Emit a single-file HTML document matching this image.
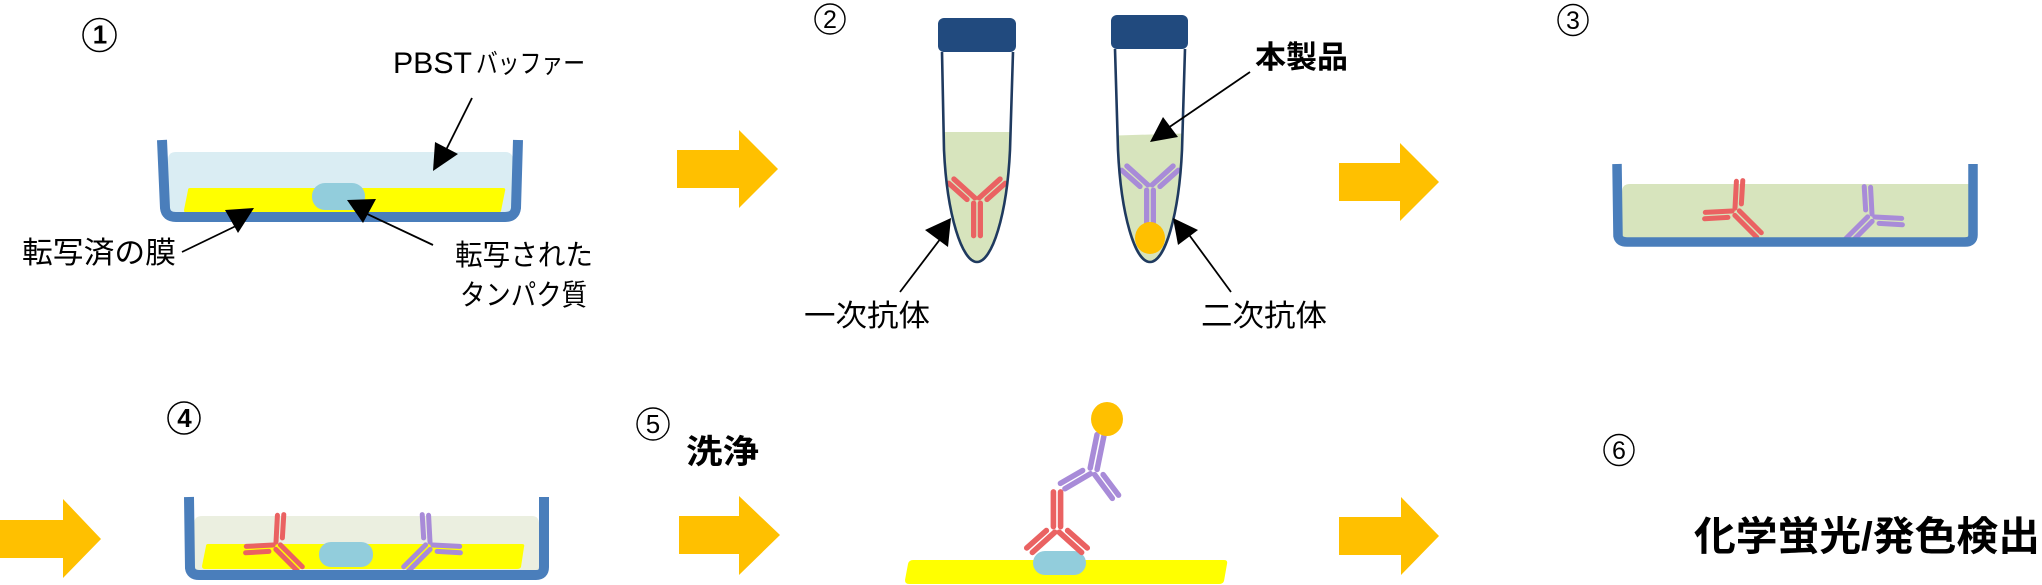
<!DOCTYPE html>
<html>
<head>
<meta charset="utf-8">
<style>
html,body{margin:0;padding:0;background:#ffffff;}
svg{display:block;}
text{font-family:"Liberation Sans","Noto Sans CJK JP",sans-serif;fill:#000;}
.b{font-weight:bold;}
</style>
</head>
<body>
<svg width="2042" height="585" viewBox="0 0 2042 585" xmlns="http://www.w3.org/2000/svg">
<defs>
  <g id="ab" fill="none" stroke="currentColor" stroke-width="5" stroke-linecap="round">
    <path d="M-3.2,3 L-3.2,34 M3.2,3 L3.2,34 M-2,-2 L-22,-20 M-9.5,-0.5 L-27,-16 M2,-2 L22,-20 M9.5,-0.5 L27,-16"/>
  </g>
  <clipPath id="t1"><path d="M942,52 L944,150 C947,215 962,262 977,262 C992,262 1007,215 1010,150 L1013,52 Z"/></clipPath>
  <clipPath id="t2"><path d="M1115,49 L1118,150 C1121,215 1135,262 1150,262 C1165,262 1179,215 1182,150 L1185,49 Z"/></clipPath>
</defs>

<!-- ================= STEP 1 ================= -->
<ellipse cx="99.5" cy="35" rx="16.5" ry="16.5" fill="none" stroke="#000" stroke-width="1.5"/>
<text x="100" y="43.5" font-size="26" class="b" text-anchor="middle">1</text>

<text x="393" y="73" font-size="30" textLength="79" lengthAdjust="spacingAndGlyphs">PBST</text>
<text x="476" y="73" font-size="27" textLength="109" lengthAdjust="spacingAndGlyphs">バッファー</text>

<path d="M168,160 Q168,152 176,152 L505,152 Q513,152 513,160 L513,213 L168,213 Z" fill="#DAEDF3"/>
<path d="M190,188 L503,188 Q506,188 505,191 L501,211 Q500,213 497,213 L187,213 Q184,213 184,210 L188,190 Q188,188 190,188 Z" fill="#FFFF00"/>
<rect x="312" y="183" width="53" height="27" rx="13" ry="13" fill="#92CDDC"/>
<path d="M162,140 L165,208 Q166,217 176,217 L505,217 Q515,217 516,208 L518,140" fill="none" stroke="#4A7EBB" stroke-width="10"/>

<line x1="472" y1="98" x2="446" y2="150" stroke="#000" stroke-width="1.8"/>
<polygon points="435,142 458,154 433,171" fill="#000"/>
<line x1="182" y1="252" x2="238" y2="225" stroke="#000" stroke-width="1.8"/>
<polygon points="225,210 254,208 238,233" fill="#000"/>
<line x1="433" y1="245" x2="363" y2="212" stroke="#000" stroke-width="1.8"/>
<polygon points="347,200 376,199 363,223" fill="#000"/>

<text x="22" y="263" font-size="30" textLength="154" lengthAdjust="spacingAndGlyphs">転写済の膜</text>
<text x="455" y="265" font-size="29" textLength="138" lengthAdjust="spacingAndGlyphs">転写された</text>
<text x="460" y="305" font-size="29" textLength="127" lengthAdjust="spacingAndGlyphs">タンパク質</text>

<!-- ================= ARROW 1 ================= -->
<polygon points="677,150 739,150 739,130 778,169 739,208 739,188 677,188" fill="#FFC000"/>

<!-- ================= STEP 2 ================= -->
<ellipse cx="830" cy="19" rx="15" ry="15" fill="none" stroke="#000" stroke-width="1.4"/>
<text x="830" y="28" font-size="25" text-anchor="middle">2</text>

<path d="M942,52 L944,150 C947,215 962,262 977,262 C992,262 1007,215 1010,150 L1013,52 Z" fill="#fff"/>
<rect x="930" y="132" width="100" height="140" fill="#D7E4BD" clip-path="url(#t1)"/>
<use href="#ab" transform="translate(977,200) scale(1.05)" style="color:#EA6262"/>
<path d="M942,52 L944,150 C947,215 962,262 977,262 C992,262 1007,215 1010,150 L1013,52" fill="none" stroke="#1F3A5F" stroke-width="2.6"/>
<rect x="938" y="18" width="78" height="34" rx="6" ry="6" fill="#214A7E"/>

<path d="M1115,49 L1118,150 C1121,215 1135,262 1150,262 C1165,262 1179,215 1182,150 L1185,49 Z" fill="#fff"/>
<polygon points="1100,136 1200,133 1200,275 1100,275" fill="#D7E4BD" clip-path="url(#t2)"/>
<use href="#ab" transform="translate(1150,187) scale(1.05)" style="color:#A88BD8"/>
<ellipse cx="1150" cy="238" rx="15" ry="16" fill="#FFC000" clip-path="url(#t2)"/>
<path d="M1115,49 L1118,150 C1121,215 1135,262 1150,262 C1165,262 1179,215 1182,150 L1185,49" fill="none" stroke="#1F3A5F" stroke-width="2.6"/>
<rect x="1111" y="15" width="77" height="34" rx="6" ry="6" fill="#214A7E"/>

<text x="1255" y="68" font-size="31" class="b" textLength="93" lengthAdjust="spacingAndGlyphs">本製品</text>
<line x1="1250" y1="72" x2="1168" y2="128" stroke="#000" stroke-width="1.8"/>
<polygon points="1150,142 1163,117 1178,137" fill="#000"/>

<text x="804" y="326" font-size="30" textLength="126" lengthAdjust="spacingAndGlyphs">一次抗体</text>
<line x1="900" y1="292" x2="941" y2="238" stroke="#000" stroke-width="1.8"/>
<polygon points="925,230 951,218 948,247" fill="#000"/>

<text x="1201" y="326" font-size="30" textLength="126" lengthAdjust="spacingAndGlyphs">二次抗体</text>
<line x1="1231" y1="292" x2="1187" y2="232" stroke="#000" stroke-width="1.8"/>
<polygon points="1173,218 1198,230 1178,245" fill="#000"/>

<!-- ================= ARROW 2 ================= -->
<polygon points="1339,163 1400,163 1400,143 1439,182 1400,221 1400,201 1339,201" fill="#FFC000"/>

<!-- ================= STEP 3 ================= -->
<ellipse cx="1573" cy="20" rx="15" ry="15.5" fill="none" stroke="#000" stroke-width="1.4"/>
<text x="1573" y="29" font-size="25" text-anchor="middle">3</text>

<path d="M1622,192 Q1622,184 1630,184 L1970,184 L1970,238 L1622,238 Z" fill="#D7E4BD"/>
<use href="#ab" transform="translate(1735,211) rotate(-45)" style="color:#EA6262"/>
<use href="#ab" transform="translate(1872,217) rotate(45)" style="color:#A88BD8"/>
<path d="M1617,164 L1618,236 Q1619,242 1627,242 L1965,242 Q1973,242 1973,235 L1973,164" fill="none" stroke="#4A7EBB" stroke-width="9.5"/>

<!-- ================= ARROW 3 ================= -->
<polygon points="0,520 63,520 63,499 101,539 63,578 63,558 0,558" fill="#FFC000"/>

<!-- ================= STEP 4 ================= -->
<ellipse cx="184" cy="418" rx="16" ry="16" fill="none" stroke="#000" stroke-width="1.5"/>
<text x="184.5" y="427" font-size="26" class="b" text-anchor="middle">4</text>

<path d="M194,524 Q194,516 202,516 L532,516 Q539,516 539,524 L539,571 L194,571 Z" fill="#EBEFE0"/>
<path d="M208,544 L522,544 Q525,544 524,547 L521,567 Q520,569 517,569 L205,569 Q202,569 202,566 L206,546 Q206,544 208,544 Z" fill="#FFFF00"/>
<rect x="319" y="542" width="54" height="25" rx="12" ry="12" fill="#92CDDC"/>
<use href="#ab" transform="translate(276,545) rotate(-45)" style="color:#EA6262"/>
<use href="#ab" transform="translate(430,545) rotate(45)" style="color:#A88BD8"/>
<path d="M189,497 L190,568 Q191,575 199,575 L536,575 Q544,575 544,567 L544,497" fill="none" stroke="#4A7EBB" stroke-width="10"/>

<!-- ================= STEP 5 ================= -->
<ellipse cx="653" cy="424" rx="16" ry="16" fill="none" stroke="#000" stroke-width="1.4"/>
<text x="653" y="433" font-size="26" text-anchor="middle">5</text>
<text x="686" y="463" font-size="33" class="b" textLength="73" lengthAdjust="spacingAndGlyphs">洗浄</text>

<polygon points="679,516 739,516 739,496 780,535 739,575 739,554 679,554" fill="#FFC000"/>

<path d="M913,560 L1224,560 Q1228,560 1227,564 L1224,581 Q1223,584 1219,584 L909,584 Q905,584 905,580 L908,564 Q909,560 913,560 Z" fill="#FFFF00"/>
<rect x="1033" y="551" width="53" height="24" rx="12" ry="12" fill="#92CDDC"/>
<use href="#ab" transform="translate(1057,530) rotate(180) scale(1.12)" style="color:#EA6262"/>
<use href="#ab" transform="translate(1093,472) rotate(191.5) scale(1.1)" style="color:#A88BD8"/>
<ellipse cx="1107" cy="419" rx="16" ry="17" fill="#FFC000"/>

<!-- ================= ARROW 5 ================= -->
<polygon points="1339,517 1401,517 1401,497 1439,536 1401,575 1401,555 1339,555" fill="#FFC000"/>

<!-- ================= STEP 6 ================= -->
<ellipse cx="1619" cy="450" rx="15" ry="15.5" fill="none" stroke="#000" stroke-width="1.4"/>
<text x="1619" y="459" font-size="25" text-anchor="middle">6</text>
<text x="1694" y="550" font-size="40" class="b" textLength="346" lengthAdjust="spacingAndGlyphs">化学蛍光/発色検出</text>
</svg>
</body>
</html>
